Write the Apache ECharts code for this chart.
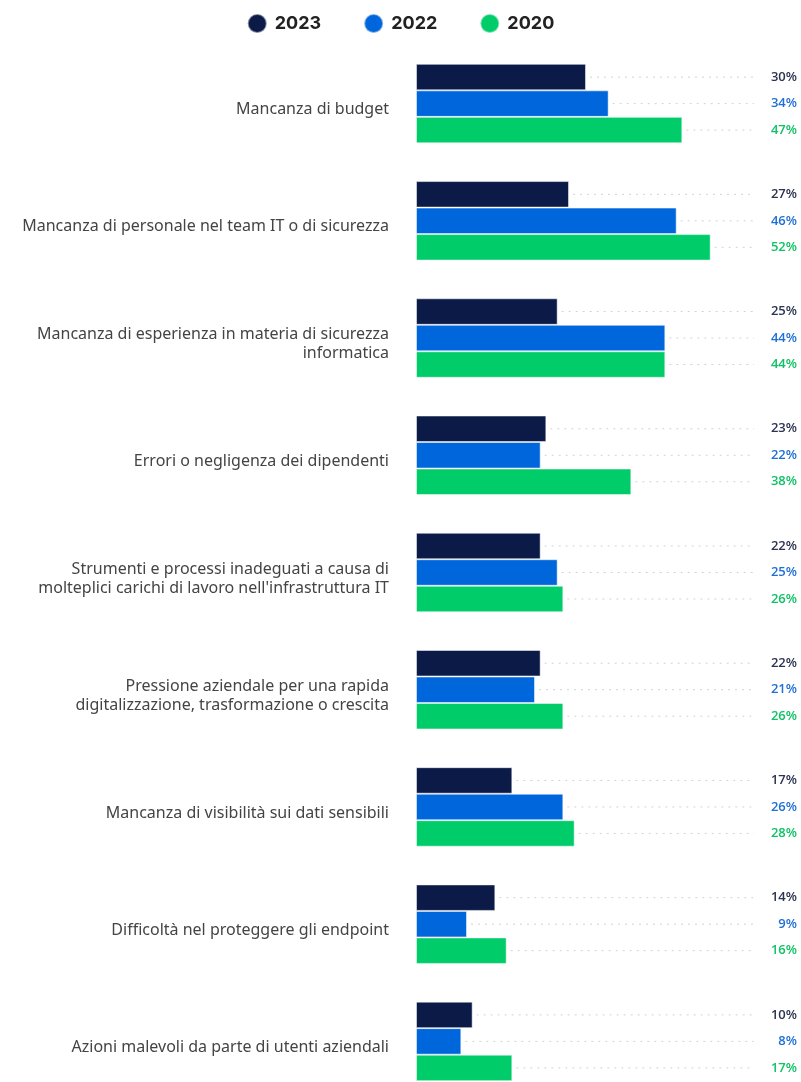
<!DOCTYPE html>
<html>
<head>
<meta charset="utf-8">
<script src="https://cdn.jsdelivr.net/npm/echarts@6/dist/echarts.min.js"></script>
<style>
  html, body { margin: 0; padding: 0; background: #fff; }
  #chart { width: 801px; height: 1082px; }
</style>
</head>
<body>
<div id="chart"></div>
<script>
// categorie (dall'alto verso il basso)
var categories = [
    'Mancanza di budget',
    'Mancanza di personale nel team IT o di sicurezza',
    'Mancanza di esperienza in materia di sicurezza\ninformatica',
    'Errori o negligenza dei dipendenti',
    'Strumenti e processi inadeguati a causa di\nmolteplici carichi di lavoro nell\'infrastruttura IT',
    'Pressione aziendale per una rapida\ndigitalizzazione, trasformazione o crescita',
    'Mancanza di visibilità sui dati sensibili',
    'Difficoltà nel proteggere gli endpoint',
    'Azioni malevoli da parte di utenti aziendali'
]
var years = ['2023', '2022', '2020']
var values2023 = [30, 27, 25, 23, 22, 22, 17, 14, 10]
var values2022 = [34, 46, 44, 22, 25, 21, 26, 9, 8]
var values2020 = [47, 52, 44, 38, 26, 26, 28, 16, 17]
var axisMax = 60

var colors = ['#0b1a47', '#0066dc', '#00cc69']
var labelColors = ['#2b3350', '#1f6fd6', '#10c265']
var barW = 26.5

var chart = echarts.init(document.getElementById('chart'))

var allValues = [values2023, values2022, values2020]

function makeBar(i) {
    return {
        name: years[i],
        type: 'bar',
        data: allValues[i],
        barWidth: barW,
        barGap: '0%',
        itemStyle: {
            color: colors[i],
            borderColor: 'rgba(255,255,255,0.5)',
            borderWidth: 1
        },
        silent: true
    }
}

// linee tratteggiate + etichette a destra
function makeLabels(i) {
    var data = allValues[i].map(function (v, c) { return [v, c] })
    return {
        name: 'lbl' + years[i],
        type: 'custom',
        silent: true,
        encode: { x: 0, y: 1 },
        data: data,
        z: 1,
        renderItem: function (params, api) {
            var v = api.value(0)
            var c = api.value(1)
            var p = api.coord([v, c])
            var end = api.coord([axisMax, c])
            var y = p[1] + (i - 1) * barW
            return {
                type: 'group',
                children: [
                    {
                        type: 'line',
                        shape: { x1: p[0] + 4, y1: y, x2: end[0] - 2, y2: y },
                        style: { stroke: '#cfd3d8', lineWidth: 1, lineDash: [2, 5] }
                    },
                    {
                        type: 'text',
                        style: {
                            x: api.getWidth() - 4,
                            y: y,
                            text: v + '%',
                            fill: labelColors[i],
                            font: '600 13px "Open Sans", sans-serif',
                            align: 'right',
                            verticalAlign: 'middle'
                        }
                    }
                ]
            }
        }
    }
}

var option = {
    animation: false,
    legend: {
        data: years,
        top: 8,
        left: 'center',
        icon: 'circle',
        itemWidth: 19,
        itemHeight: 19,
        itemGap: 42,
        textStyle: {
            color: '#222',
            fontSize: 18,
            fontWeight: 'bold',
            fontFamily: 'Inter, sans-serif',
            padding: [0, 0, 0, 3]
        }
    },
    grid: {
        left: 416,
        right: 45,
        top: 45,
        height: 1055,
        outerBoundsMode: 'none'
    },
    xAxis: {
        type: 'value',
        min: 0,
        max: axisMax,
        show: false
    },
    yAxis: {
        type: 'category',
        data: categories,
        inverse: true,
        axisLine: { show: false },
        axisTick: { show: false },
        splitLine: { show: false },
        axisLabel: {
            margin: 27,
            align: 'right',
            formatter: function (val) {
                // leggero spostamento verso il basso come nell'originale
                return val.split('\n').map(function (s) { return '{t|' + s + '}' }).join('\n')
            },
            rich: {
                t: {
                    color: '#444',
                    fontSize: 16,
                    lineHeight: 19,
                    fontFamily: '"Noto Sans", sans-serif',
                    padding: [12, 0, 0, 0]
                }
            }
        }
    },
    series: [
        makeBar(0), makeBar(1), makeBar(2),
        makeLabels(0), makeLabels(1), makeLabels(2)
    ]
}

chart.setOption(option)
</script>
</body>
</html>
